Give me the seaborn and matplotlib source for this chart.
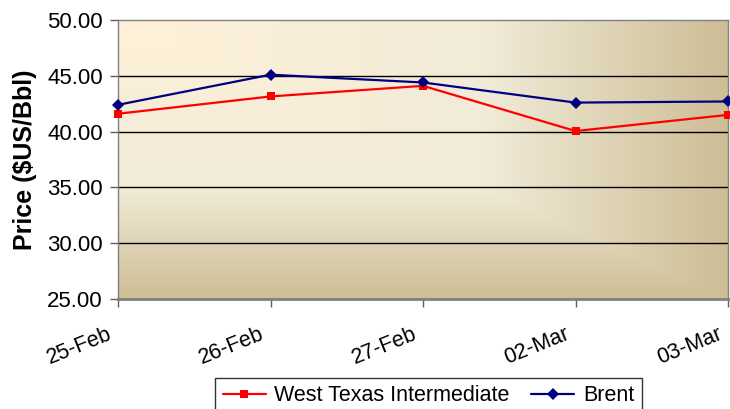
import numpy as np
import pandas as pd
import seaborn as sns
import matplotlib.pyplot as plt
import matplotlib.transforms as mtransforms
from matplotlib.colors import LinearSegmentedColormap
from matplotlib.ticker import FormatStrFormatter

# Crude oil prices (US$/bbl)
dates = ["25-Feb", "26-Feb", "27-Feb", "02-Mar", "03-Mar"]
wti = [41.6, 43.15, 44.1, 40.05, 41.5]
brent = [42.4, 45.1, 44.4, 42.6, 42.7]
series_names = ["West Texas Intermediate", "Brent"]

df = pd.DataFrame({
    "date": dates * 2,
    "price": wti + brent,
    "series": [series_names[0]] * len(dates) + [series_names[1]] * len(dates),
})

sns.set_style("white")
plt.rcParams["font.family"] = ["Liberation Sans", "DejaVu Sans"]
plt.rcParams["text.color"] = "black"
plt.rcParams["axes.labelcolor"] = "black"
plt.rcParams["xtick.color"] = "black"
plt.rcParams["ytick.color"] = "black"

fig = plt.figure(figsize=(7.3, 4.09), dpi=100)
ax = fig.add_axes([118 / 730, 110 / 409, 610 / 730, 279 / 409])

# corner gradient background (light top-left, tan towards right/bottom)
u, v = np.meshgrid(np.linspace(0, 1, 300), np.linspace(0, 1, 300))
t = np.maximum(u, v)
cmap = LinearSegmentedColormap.from_list(
    "bg", [(0, "#FFF1D8"), (0.6, "#F1EBD8"), (1, "#CEBE96")])
ax.imshow(t, cmap=cmap, extent=[0, 1, 0, 1], transform=ax.transAxes,
          aspect="auto", origin="upper", zorder=0, interpolation="bilinear")

sns.lineplot(data=df, x="date", y="price", hue="series", style="series",
             hue_order=series_names, style_order=series_names,
             palette={series_names[0]: "#FF0000", series_names[1]: "#000080"},
             markers={series_names[0]: "s", series_names[1]: "D"},
             dashes=False, markersize=6, markeredgewidth=0, linewidth=1.6,
             clip_on=False, ax=ax, zorder=3)

ax.set_xlim(0, len(dates) - 1)
ax.set_ylim(25, 50)
ax.set_yticks([25, 30, 35, 40, 45, 50])
ax.yaxis.set_major_formatter(FormatStrFormatter("%.2f"))
for y in [30, 35, 40, 45]:
    ax.axhline(y, color="#000000", linewidth=1, zorder=1)

ax.set_xlabel("")
ax.set_ylabel("Price ($US/Bbl)", fontsize=18, fontweight="bold", color="black")
ax.yaxis.set_label_coords(-0.132, 0.5)
ax.tick_params(axis="y", labelsize=16, length=6, width=1, color="#606060",
               labelcolor="black", left=True, pad=5)
ax.tick_params(axis="x", labelsize=15.5, length=6, width=1, color="#606060",
               labelcolor="black", bottom=True, pad=12)
shift = mtransforms.ScaledTranslation(-11 / 100, 0, fig.dpi_scale_trans)
for lab in ax.get_xticklabels():
    lab.set_rotation(22)
    lab.set_ha("right")
    lab.set_va("top")
    lab.set_rotation_mode("anchor")
    lab.set_transform(lab.get_transform() + shift)

for s in ax.spines.values():
    s.set_color("#808080")
    s.set_linewidth(1)
ax.spines["bottom"].set_linewidth(2)

handles, labels = ax.get_legend_handles_labels()
ax.get_legend().remove()
for h in handles:
    h.set_linewidth(1.6)
leg = fig.legend(handles, labels, loc="upper center", bbox_to_anchor=(0.587, 0.076),
                 ncol=2, fontsize=15.5, frameon=True, fancybox=False,
                 edgecolor="#000000", borderpad=0.35, handlelength=2.0,
                 columnspacing=1.0, handletextpad=0.4, borderaxespad=0)
for txt in leg.get_texts():
    txt.set_color("black")

fig.savefig("out.png", dpi=100)
